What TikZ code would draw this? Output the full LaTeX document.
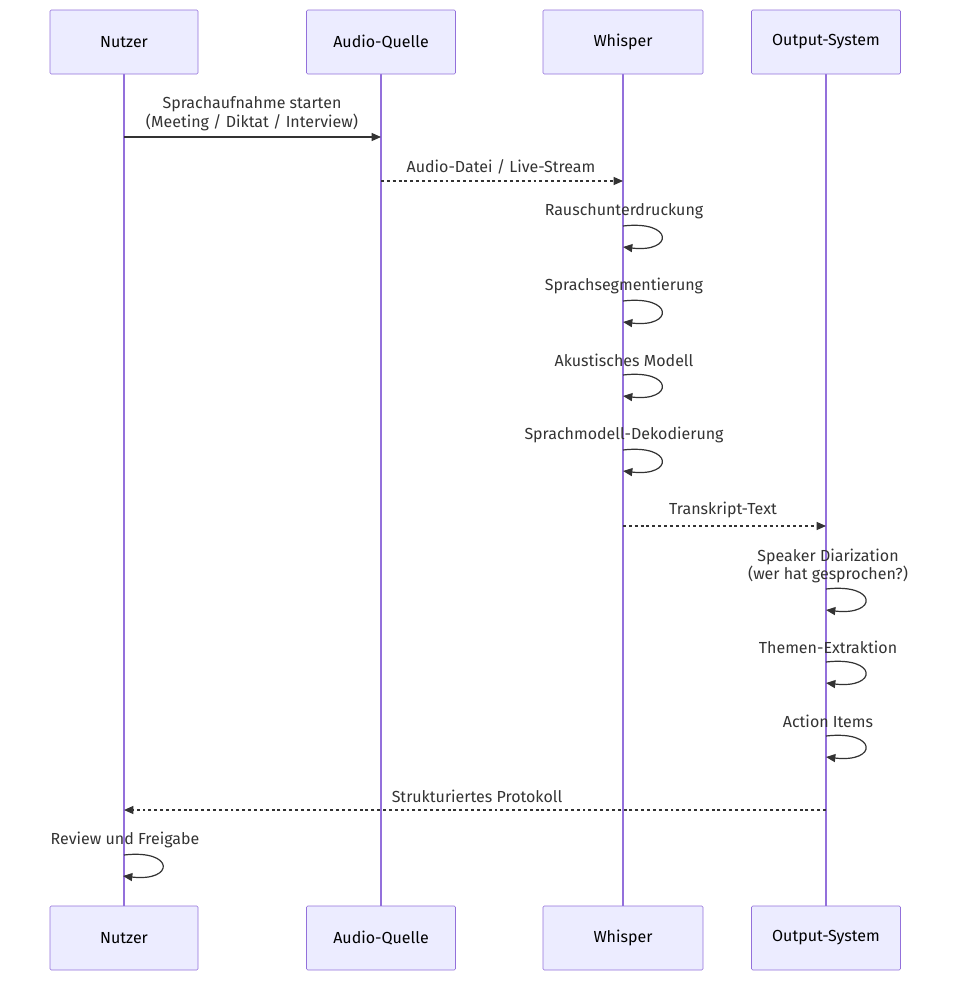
\documentclass[tikz,border=0pt]{standalone}
\usepackage{fontspec}
\setmainfont{Fira Sans}
\usetikzlibrary{positioning, arrows.meta}
\definecolor{actfill}{HTML}{ECECFF}
\definecolor{actline}{HTML}{9370DB}
\definecolor{msgline}{HTML}{333333}
\tikzset{
  actor/.style={draw=actline, fill=actfill, rounded corners=1pt, minimum height=48pt, text=black, font=\fontsize{12}{14}\selectfont},
  lifeline/.style={draw=actline, line width=1.2pt},
  msg/.style={draw=msgline, line width=0.9pt, -{Triangle[length=7pt,width=6pt]}},
  reply/.style={msg, dash pattern=on 2.2pt off 2.2pt},
  msglabel/.style={text=msgline, font=\fontsize{12}{14}\selectfont, align=center, inner sep=0pt}
}
\begin{document}
\begin{tikzpicture}[x=0.75pt, y=-0.75pt]
  \useasboundingbox (0,0) rectangle (960,989);

  % lifelines and actor boxes
  \foreach \name/\x/\w/\txt in {nu/124/148/Nutzer, aq/381/149/Audio-Quelle, ws/623/160/Whisper / STT-Dienst, os/826/149/Output-System}{
    \draw[lifeline] (\x,42) -- (\x,938);
    \node[actor, minimum width=\w*0.75pt] (\name top) at (\x,42) {\txt};
    \node[actor, minimum width=\w*0.75pt] (\name bot) at (\x,938) {\txt};
  }

  % messages
  \coordinate (m1a) at (124,137); \coordinate (m1b) at (381,137);
  \draw[msg] (m1a) -- (m1b);
  \node[msglabel] (l1) at (252,114) {Sprachaufnahme starten\\(Meeting / Diktat / Interview)};

  \coordinate (m2a) at (381,181); \coordinate (m2b) at (623,181);
  \draw[reply] (m2a) -- (m2b);
  \node[msglabel] (l2) at (501,167) {Audio-Datei / Live-Stream};

  % self calls on STT
  \foreach \y/\txt in {226/Rauschunterdruckung, 301/Sprachsegmentierung, 375/Akustisches Modell, 450/Sprachmodell-Dekodierung}{
    \node[msglabel] at (624,\y-15) {\txt};
    \draw[msg] (623,\y) .. controls (674,\y-6) and (674,\y+27) .. (623,\y+21);
  }

  \coordinate (m7a) at (623,526); \coordinate (m7b) at (826,526);
  \draw[reply] (m7a) -- (m7b);
  \node[msglabel] (l7) at (723,510) {Transkript-Text};

  % self calls on output
  \node[msglabel] at (828,566) {Speaker Diarization\\(wer hat gesprochen?)};
  \foreach \y/\txt in {589/, 662/Themen-Extraktion, 736/Action Items}{
    \node[msglabel] at (828,\y-15) {\txt};
    \draw[msg] (826,\y) .. controls (878,\y-6) and (878,\y+27) .. (826,\y+21);
  }

  \coordinate (m11a) at (826,810); \coordinate (m11b) at (124,810);
  \draw[reply] (m11a) -- (m11b);
  \node[msglabel] (l11) at (477,796) {Strukturiertes Protokoll};

  \node[msglabel] (l12) at (125,840) {Review und Freigabe};
  \draw[msg] (124,855) .. controls (175,849) and (175,882) .. (123,876);
\end{tikzpicture}
\end{document}
